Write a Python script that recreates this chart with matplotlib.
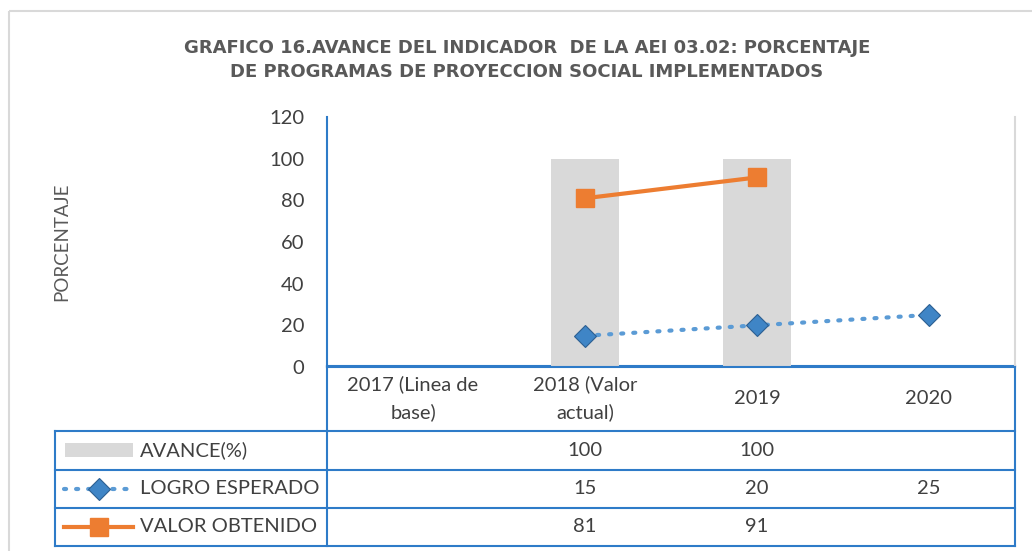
import numpy as np
import matplotlib
matplotlib.use("Agg")
import matplotlib.pyplot as plt
from matplotlib.transforms import blended_transform_factory
from matplotlib.lines import Line2D
from matplotlib.patches import Rectangle

plt.rcParams['font.family'] = ['Lato', 'DejaVu Sans']

# ---- data ----
categories = ["2017 (Linea de\nbase)", "2018 (Valor\nactual)", "2019", "2020"]
avance = [np.nan, 100, 100, np.nan]
logro_esperado = [np.nan, 15, 20, 25]
valor_obtenido = [np.nan, 81, 91, np.nan]
series_names = ["AVANCE(%)", "LOGRO ESPERADO", "VALOR OBTENIDO"]
yticks = [0, 20, 40, 60, 80, 100, 120]
title = ("GRAFICO 16.AVANCE DEL INDICADOR  DE LA AEI 03.02: PORCENTAJE\n"
         "DE PROGRAMAS DE PROYECCION SOCIAL IMPLEMENTADOS")
ylabel = "PORCENTAJE"

W, H = 1032, 551
fig = plt.figure(figsize=(W / 100, H / 100), dpi=100)
fig.patch.set_facecolor("white")

TXT = "#404040"
BLUE_LINE = "#2E7BC8"
GRAY_BAR = "#D9D9D9"
ORANGE = "#ED7D31"
BLUE = "#5B9BD5"
FS = 14.5

# overlay in pixel coordinates
ov = fig.add_axes([0, 0, 1, 1], zorder=0)
ov.set_xlim(0, W)
ov.set_ylim(H, 0)
ov.axis("off")

# main plot axes
x0, x1, ytop, ybot = 327, 1015, 117, 367
ax = fig.add_axes([x0 / W, (H - ybot) / H, (x1 - x0) / W, (ybot - ytop) / H], zorder=2)
ax.patch.set_alpha(0)
x = np.arange(len(categories))
ax.bar(x, avance, width=0.4, color=GRAY_BAR, zorder=1)
ax.plot(x, logro_esperado, linestyle=(0, (0.5, 2.4)), dash_capstyle="round", lw=3.0,
        color=BLUE, marker="D", markersize=11, markerfacecolor="#3F85C6",
        markeredgecolor="#2C5F92", markeredgewidth=0.8, zorder=3)
ax.plot(x, valor_obtenido, color=ORANGE, lw=3, marker="s", markersize=12.5,
        markerfacecolor=ORANGE, markeredgecolor=ORANGE, zorder=4)
ax.set_xlim(-0.5, len(categories) - 0.5)
ax.set_ylim(0, 120)
ax.set_yticks(yticks)
ax.set_yticklabels([str(v) for v in yticks], fontsize=FS, color=TXT)
ax.tick_params(axis="y", length=0, pad=16.5)
ax.set_xticks([])
ax.spines["top"].set_visible(False)
ax.spines["left"].set_color(BLUE_LINE)
ax.spines["left"].set_linewidth(1.5)
ax.spines["bottom"].set_color(BLUE_LINE)
ax.spines["bottom"].set_linewidth(1.5)
ax.spines["right"].set_color("#D9D9D9")
ax.spines["right"].set_linewidth(1.5)

# y label
ov.text(62, 242, ylabel, rotation=90, ha="center", va="center", fontsize=13.5, color="#595959")

# title
ov.text(527, 60, title, ha="center", va="center", fontsize=13, fontweight="bold",
        color="#595959", linespacing=1.45, family="DejaVu Sans")

# outer chart border
ov.add_patch(Rectangle((9, 11), 1100, 600, fill=False, edgecolor="#D9D9D9", lw=1.5))

# ---- data table ----
tr = blended_transform_factory(ax.transData, ov.transData)
rows_y = [366, 431, 469.5, 508, 546]
lx0, lx1, rx = 55, 327, 1015
lw_t = 1.5
ov.plot([lx1, rx], [rows_y[0], rows_y[0]], color=BLUE_LINE, lw=lw_t)
for yy in rows_y[1:]:
    ov.plot([lx0, rx], [yy, yy], color=BLUE_LINE, lw=lw_t)
ov.plot([lx0, lx0], [rows_y[1], rows_y[-1]], color=BLUE_LINE, lw=lw_t)
ov.plot([lx1, lx1], [rows_y[0], rows_y[-1]], color=BLUE_LINE, lw=lw_t)
ov.plot([rx, rx], [rows_y[0], rows_y[-1]], color=BLUE_LINE, lw=lw_t)

# header
for i, c in enumerate(categories):
    ov.text(i, (rows_y[0] + rows_y[1]) / 2, c, transform=tr, ha="center", va="center",
            fontsize=FS, color=TXT, linespacing=1.7)

series = [avance, logro_esperado, valor_obtenido]
for r, (name, vals) in enumerate(zip(series_names, series)):
    yc = (rows_y[r + 1] + rows_y[r + 2]) / 2
    ov.text(140, yc, name, ha="left", va="center", fontsize=FS, color=TXT)
    for i, v in enumerate(vals):
        if not np.isnan(v):
            ov.text(i, yc, f"{v:g}", transform=tr, ha="center", va="center",
                    fontsize=FS, color=TXT)

# legend keys
yc0 = (rows_y[1] + rows_y[2]) / 2
ov.add_patch(Rectangle((65, yc0 - 7), 68, 14, color=GRAY_BAR, lw=0))
yc1 = (rows_y[2] + rows_y[3]) / 2
ov.add_line(Line2D([64, 133], [yc1, yc1], linestyle=(0, (0.5, 2.4)), dash_capstyle="round",
                   lw=3.0, color=BLUE))
ov.add_line(Line2D([98.5], [yc1], marker="D", markersize=11, markerfacecolor="#3F85C6",
                   markeredgecolor="#2C5F92", markeredgewidth=0.8, linestyle="none"))
yc2 = (rows_y[3] + rows_y[4]) / 2
ov.add_line(Line2D([64, 133], [yc2, yc2], lw=3, color=ORANGE))
ov.add_line(Line2D([98.5], [yc2], marker="s", markersize=12.5, color=ORANGE, linestyle="none"))

fig.savefig("out.png", dpi=100)
